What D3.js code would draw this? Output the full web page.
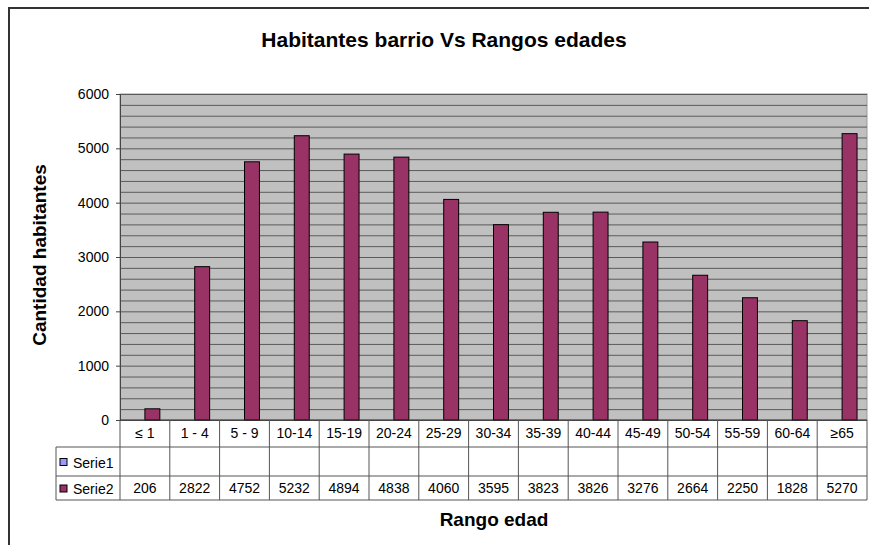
<!DOCTYPE html>
<html>
<head>
<meta charset="utf-8">
<script src="https://cdn.jsdelivr.net/npm/d3@7"></script>
<style>
body { margin: 0; background: #fff; }
text { font-family: "Liberation Sans", Arial, sans-serif; }
</style>
</head>
<body>
<script>
var w = 869;
var h = 545;

// data
var rangos = ["\u2264 1", "1 - 4", "5 - 9", "10-14", "15-19", "20-24", "25-29", "30-34",
              "35-39", "40-44", "45-49", "50-54", "55-59", "60-64", "\u226565"];
var serie1 = [null, null, null, null, null, null, null, null, null, null, null, null, null, null, null];
var serie2 = [206, 2822, 4752, 5232, 4894, 4838, 4060, 3595, 3823, 3826, 3276, 2664, 2250, 1828, 5270];
var series = ["Serie1", "Serie2"];
var colores = ["#9999FF", "#993366"];
var yTicks = [0, 1000, 2000, 3000, 4000, 5000, 6000];

var pLeft = 120, pRight = 867, pTop = 94, pBottom = 420;

var svg = d3.select("body").append("svg")
	.attr("width", w)
	.attr("height", h);

// outer frame
svg.append("rect")
	.attr("x", 9).attr("y", 8)
	.attr("width", 900).attr("height", 600)
	.attr("fill", "#fff")
	.attr("stroke", "#333").attr("stroke-width", 2);

var x = d3.scaleBand().domain(rangos).range([pLeft, pRight]).padding(0);
var xs = d3.scaleBand().domain(series).range([x.bandwidth() * 0.2, x.bandwidth() * 0.8]).padding(0);
var y = d3.scaleLinear().domain([0, 6000]).range([pBottom, pTop]);

// plot background
svg.append("rect")
	.attr("x", pLeft).attr("y", pTop)
	.attr("width", pRight - pLeft).attr("height", pBottom - pTop)
	.attr("fill", "#C0C0C0")
	.attr("stroke", "#9a9a9a");

// gridlines every 200
svg.append("g")
	.attr("transform", "translate(" + pLeft + ",0)")
	.call(d3.axisLeft(y).ticks(30).tickSize(-(pRight - pLeft)).tickFormat(""))
	.call(function(g) {
		g.select(".domain").remove();
		g.selectAll("line").attr("stroke", "#5a5a5a");
	});

// y axis
svg.append("g")
	.attr("transform", "translate(" + pLeft + ",0)")
	.call(d3.axisLeft(y).tickValues(yTicks).tickFormat(d3.format("d")).tickSize(4).tickPadding(7).tickSizeOuter(0))
	.call(function(g) {
		g.select(".domain").attr("stroke", "#444");
		g.selectAll("line").attr("stroke", "#444");
		g.selectAll("text").attr("font-size", "14px").attr("fill", "#000")
			.attr("font-family", "Liberation Sans, Arial, sans-serif");
	});

// bars
var rows = [serie1, serie2];
rows.forEach(function(vals, si) {
	svg.append("g").selectAll("rect")
		.data(vals.map(function(v, i) { return {cat: rangos[i], v: v}; }).filter(function(d) { return d.v != null; }))
		.enter().append("rect")
		.attr("x", function(d) { return x(d.cat) + xs(series[si]); })
		.attr("y", function(d) { return y(d.v); })
		.attr("width", xs.bandwidth())
		.attr("height", function(d) { return pBottom - y(d.v); })
		.attr("fill", colores[si])
		.attr("stroke", "#000").attr("stroke-width", 1);
});

// data table
var rowTop = [pBottom, 447, 476, 500];
var tg = svg.append("g");
var lineCol = "#555";
// horizontal lines
tg.append("line").attr("x1", pLeft).attr("x2", pRight).attr("y1", pBottom).attr("y2", pBottom).attr("stroke", "#333");
tg.append("line").attr("x1", 56).attr("x2", pRight).attr("y1", rowTop[1]).attr("y2", rowTop[1]).attr("stroke", lineCol);
tg.append("line").attr("x1", 56).attr("x2", pRight).attr("y1", rowTop[2]).attr("y2", rowTop[2]).attr("stroke", lineCol);
tg.append("line").attr("x1", 56).attr("x2", pRight).attr("y1", rowTop[3]).attr("y2", rowTop[3]).attr("stroke", lineCol);
// vertical lines
tg.selectAll("line.v")
	.data(rangos.concat(["end"]))
	.enter().append("line")
	.attr("class", "v")
	.attr("x1", function(d, i) { return pLeft + i * x.bandwidth(); })
	.attr("x2", function(d, i) { return pLeft + i * x.bandwidth(); })
	.attr("y1", pBottom).attr("y2", rowTop[3])
	.attr("stroke", lineCol);
tg.append("line").attr("x1", 56).attr("x2", 56).attr("y1", rowTop[1]).attr("y2", rowTop[3]).attr("stroke", lineCol);

// category labels
tg.selectAll("text.cat")
	.data(rangos)
	.enter().append("text")
	.attr("class", "cat")
	.attr("x", function(d) { return x(d) + x.bandwidth() / 2; })
	.attr("y", 438)
	.attr("text-anchor", "middle")
	.attr("font-size", "14px")
	.text(function(d) { return d; });

// Serie2 values
tg.selectAll("text.val")
	.data(serie2)
	.enter().append("text")
	.attr("class", "val")
	.attr("x", function(d, i) { return x(rangos[i]) + x.bandwidth() / 2; })
	.attr("y", 493)
	.attr("text-anchor", "middle")
	.attr("font-size", "14px")
	.text(function(d) { return d; });

// legend keys in table
series.forEach(function(s, i) {
	var cy = (rowTop[i + 1] + rowTop[i + 2]) / 2;
	tg.append("rect")
		.attr("x", 60).attr("y", cy - 3)
		.attr("width", 7).attr("height", 7)
		.attr("fill", colores[i])
		.attr("stroke", "#000");
	tg.append("text")
		.attr("x", 73).attr("y", cy + 6)
		.attr("font-size", "14px")
		.text(s);
});

// titles
svg.append("text")
	.attr("x", 444).attr("y", 47)
	.attr("text-anchor", "middle")
	.attr("font-size", "21px").attr("font-weight", "bold")
	.text("Habitantes barrio Vs Rangos edades");

svg.append("text")
	.attr("transform", "translate(46,255) rotate(-90)")
	.attr("text-anchor", "middle")
	.attr("font-size", "19px").attr("font-weight", "bold")
	.text("Cantidad habitantes");

svg.append("text")
	.attr("x", 494).attr("y", 526)
	.attr("text-anchor", "middle")
	.attr("font-size", "19px").attr("font-weight", "bold")
	.text("Rango edad");
</script>
</body>
</html>
